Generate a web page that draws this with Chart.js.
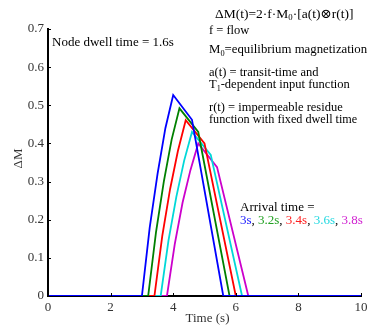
<!DOCTYPE html>
<html>
<head>
<meta charset="utf-8">
<script src="https://cdn.jsdelivr.net/npm/chart.js@4"></script>
<style>
  html, body { margin: 0; padding: 0; background: #fff; }
</style>
</head>
<body>
<canvas id="dmChart" width="373" height="328"></canvas>
<script>
// arrival times (s) for each curve
const arrivalLabels = ["3s", "3.2s", "3.4s", "3.6s", "3.8s"];

// time points and ΔM values, one pair per arrival time
const t30 = [0, 3.0, 3.25, 3.5, 3.75, 4.0, 4.6, 5.6, 10];
const dm30 = [0, 0, 0.18, 0.32, 0.44, 0.527, 0.462, 0, 0];
const t32 = [0, 3.2, 3.45, 3.7, 3.95, 4.2, 4.8, 5.8, 10];
const dm32 = [0, 0, 0.167, 0.30, 0.41, 0.492, 0.43, 0, 0];
const t34 = [0, 3.4, 3.65, 3.9, 4.15, 4.4, 5.0, 6.0, 10];
const dm34 = [0, 0, 0.157, 0.28, 0.38, 0.461, 0.40, 0, 0];
const t36 = [0, 3.6, 3.85, 4.1, 4.35, 4.6, 5.2, 6.2, 10];
const dm36 = [0, 0, 0.146, 0.26, 0.355, 0.43, 0.37, 0, 0];
const t38 = [0, 3.8, 4.05, 4.3, 4.55, 4.8, 5.4, 6.4, 10];
const dm38 = [0, 0, 0.136, 0.245, 0.33, 0.40, 0.338, 0, 0];

const xTicks = [0, 2, 4, 6, 8, 10];
const yTicks = [0, 0.1, 0.2, 0.3, 0.4, 0.5, 0.6, 0.7];

const lineColors = ["#0000ff", "#008000", "#ff0000", "#00d8d8", "#cc00cc"];
const textColors = ["#2020ff", "#20a020", "#ff2020", "#20d8e0", "#d020d0"];
const serif = "'Liberation Serif', 'DejaVu Serif', serif";

function toPoints(ts, vs) {
    return ts.map((t, i) => ({ x: t, y: vs[i] }));
}

const curves = [[t30, dm30], [t32, dm32], [t34, dm34], [t36, dm36], [t38, dm38]];

// labels, inward ticks and the annotation text
const annotations = {
    id: "annotations",
    afterDraw(chart) {
        const ctx = chart.ctx;
        const xs = chart.scales.x, ys = chart.scales.y;
        const left = xs.left, bottom = ys.bottom;

        ctx.save();
        ctx.strokeStyle = "#000";
        ctx.lineWidth = 1;
        xTicks.forEach(v => {
            const px = Math.round(xs.getPixelForValue(v)) + 0.5;
            ctx.beginPath(); ctx.moveTo(px, bottom); ctx.lineTo(px, bottom - 3); ctx.stroke();
        });
        yTicks.forEach(v => {
            const py = Math.round(ys.getPixelForValue(v)) + 0.5;
            ctx.beginPath(); ctx.moveTo(left, py); ctx.lineTo(left + 3, py); ctx.stroke();
        });

        ctx.fillStyle = "#000";
        ctx.textBaseline = "middle";
        ctx.textAlign = "left";

        ctx.font = "13px " + serif;
        ctx.fillText("Node dwell time = 1.6s", 52, 43);

        // text with a subscript part
        function subText(parts, x, y, size) {
            let cx = x;
            parts.forEach(p => {
                const s = p.sub ? size * 0.65 : size;
                ctx.font = s + "px " + serif;
                ctx.fillText(p.t, cx, p.sub ? y + size * 0.3 : y);
                cx += ctx.measureText(p.t).width;
            });
        }

        subText([{ t: "\u0394M(t)=2\u00b7f\u00b7M" }, { t: "0", sub: true }, { t: "\u00b7[a(t)\u2297r(t)]" }], 215, 14, 13.5);
        subText([{ t: "f = flow" }], 209, 31, 12.5);
        subText([{ t: "M" }, { t: "0", sub: true }, { t: "=equilibrium magnetization" }], 209, 50, 12.8);
        subText([{ t: "a(t) = transit-time and" }], 209, 73, 12.5);
        subText([{ t: "T" }, { t: "1", sub: true }, { t: "-dependent input function" }], 209, 85, 12.5);
        subText([{ t: "r(t) = impermeable residue" }], 209, 108, 12.5);
        subText([{ t: "function with fixed dwell time" }], 209, 120, 12.2);

        ctx.font = "13px " + serif;
        ctx.fillText("Arrival time =", 240, 208);
        let cx = 240;
        arrivalLabels.forEach((lab, i) => {
            ctx.fillStyle = textColors[i];
            ctx.fillText(lab, cx, 221);
            cx += ctx.measureText(lab).width;
            if (i < arrivalLabels.length - 1) {
                ctx.fillStyle = "#000";
                ctx.fillText(", ", cx, 221);
                cx += ctx.measureText(", ").width;
            }
        });
        ctx.restore();
    }
};

new Chart(document.getElementById("dmChart").getContext("2d"), {
    type: "line",
    data: {
        datasets: curves.map((c, i) => ({
            label: arrivalLabels[i],
            data: toPoints(c[0], c[1]),
            borderColor: lineColors[i],
            borderWidth: 1.8,
            pointRadius: 0,
            tension: 0,
            fill: false
        }))
    },
    options: {
        responsive: false,
        animation: false,
        layout: { padding: { top: 29, right: 12, left: 0, bottom: 0 } },
        plugins: { legend: { display: false }, tooltip: { enabled: false } },
        scales: {
            x: {
                type: "linear",
                min: 0, max: 10,
                afterBuildTicks: s => { s.ticks = xTicks.map(v => ({ value: v })); },
                afterFit: s => { s.height = 32; },
                grid: { display: true, drawOnChartArea: false, drawTicks: false },
                border: { display: true, color: "#000", width: 2 },
                ticks: { color: "#333", font: { family: serif, size: 13 }, padding: 4, maxRotation: 0 },
                title: { display: false }
            },
            y: {
                min: 0, max: 0.7,
                afterBuildTicks: s => { s.ticks = yTicks.map(v => ({ value: v })); },
                afterFit: s => { s.width = 48; },
                grid: { display: true, drawOnChartArea: false, drawTicks: false },
                border: { display: true, color: "#000", width: 2 },
                ticks: { color: "#333", font: { family: serif, size: 13 }, padding: 4 },
                title: { display: false }
            }
        }
    },
    plugins: [annotations, {
        id: "axisTitles",
        afterDraw(chart) {
            const ctx = chart.ctx;
            const xs = chart.scales.x, ys = chart.scales.y;
            ctx.save();
            ctx.fillStyle = "#333";
            ctx.font = "13px " + serif;
            ctx.textAlign = "center";
            ctx.textBaseline = "middle";
            ctx.fillText("Time (s)", (xs.left + xs.right) / 2 + 3, 319);
            ctx.translate(19, (ys.top + ys.bottom) / 2 - 4);
            ctx.rotate(-Math.PI / 2);
            ctx.fillText("\u0394M", 0, 0);
            ctx.restore();
        }
    }]
});
</script>
</body>
</html>
